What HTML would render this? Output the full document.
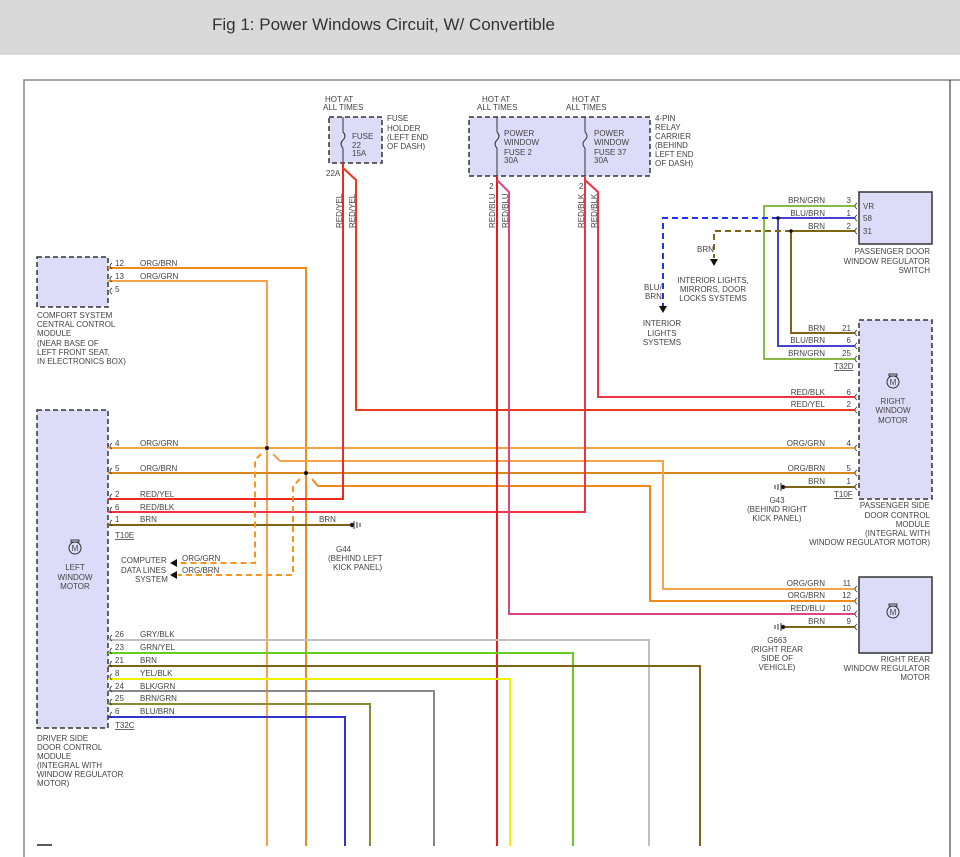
<!DOCTYPE html>
<html><head><meta charset="utf-8"><style>
html,body{margin:0;padding:0;background:#fff;}
svg{display:block;font-family:"Liberation Sans",sans-serif;}
text{fill:#444;font-size:8px;}
</style></head><body>
<svg width="960" height="857" viewBox="0 0 960 857" xmlns="http://www.w3.org/2000/svg">
<rect x="0" y="0" width="960" height="55" fill="#d9d9d9"/>
<text x="212" y="30" style="font-size:17px;fill:#333">Fig 1: Power Windows Circuit, W/ Convertible</text>
<path d="M24,857 V80 H960" fill="none" stroke="#888" stroke-width="1.5"/>
<line x1="950" y1="80" x2="950" y2="857" stroke="#222" stroke-width="1"/>
<line x1="37" y1="845" x2="52" y2="845" stroke="#222" stroke-width="1.5"/>

<!-- boxes -->
<g fill="#dcdcf8" stroke="#333" stroke-width="1.5" stroke-dasharray="5,3">
<rect x="37" y="257" width="71" height="50"/>
<rect x="37" y="410" width="71" height="318"/>
<rect x="329" y="117" width="53" height="46"/>
<rect x="469" y="117" width="181" height="59"/>
<rect x="859" y="320" width="73" height="179"/>
</g>
<g fill="#dcdcf8" stroke="#333" stroke-width="1.5">
<rect x="859" y="192" width="73" height="52"/>
<rect x="859" y="577" width="73" height="76"/>
</g>

<!-- fuses -->
<g stroke="#333" stroke-width="1" fill="none">
<path d="M343,117 V132 M343,148 V163 M343,132 q4,4 0,8 q-4,4 0,8"/>
<path d="M497,117 V132 M497,148 V176 M497,132 q4,4 0,8 q-4,4 0,8"/>
<path d="M585,117 V132 M585,148 V176 M585,132 q4,4 0,8 q-4,4 0,8"/>
</g>

<!-- wires -->
<g fill="none" stroke-width="2">
<path d="M108,281 H267 V846" stroke="#f4a34a"/>
<path d="M108,268 H306 V846" stroke="#ef8a1c"/>
<path d="M108,448 H855" stroke="#f4a34a"/>
<path d="M108,473 H855" stroke="#d9861a"/>
<path d="M273,454 L280,461 H663 V589 H855" stroke="#f4a34a"/>
<path d="M312,479 L318,486 H650 V601 H855" stroke="#ef8a1c"/>
<path d="M108,499 H343 V163" stroke="#ee2a1a"/>
<path d="M343,168 L356,180 V410 H855" stroke="#ee3a1a"/>
<path d="M108,512 H585 V176" stroke="#ee3344"/>
<path d="M585,180 L598,192 V397 H855" stroke="#ee3344"/>
<path d="M497,176 V846" stroke="#ee1a1a"/>
<path d="M497,180 L509,192 V614 H855" stroke="#dd4488"/>
<path d="M108,525 H350" stroke="#806516"/>
<path d="M785,487 H855" stroke="#806516"/>
<path d="M785,627 H855" stroke="#806516"/>
<path d="M108,640 H649 V846" stroke="#c0c0c0"/>
<path d="M108,653 H573 V846" stroke="#66cc22"/>
<path d="M108,666 H700 V846" stroke="#806516"/>
<path d="M108,679 H510 V846" stroke="#f0f000"/>
<path d="M108,691 H434 V846" stroke="#888"/>
<path d="M108,704 H370 V846" stroke="#8a8a30"/>
<path d="M108,717 H345 V846" stroke="#3333cc"/>
<path d="M855,206 H764 V359 H855" stroke="#88bb44"/>
<path d="M855,218 H778 V346 H855" stroke="#4444cc"/>
<path d="M855,231 H791 V333 H855" stroke="#806516"/>
</g>
<g fill="none" stroke-width="2" stroke-dasharray="6,4">
<path d="M261,454 L255,460 V563 H178" stroke="#f7941d"/>
<path d="M300,479 L293,486 V575 H178" stroke="#f7941d"/>
<path d="M778,218 H663 V306" stroke="#2233ee"/>
<path d="M791,231 H714 V258" stroke="#806516"/>
</g>
<g fill="#111">
<circle cx="267" cy="448" r="2"/><circle cx="306" cy="473" r="2"/>
<circle cx="778" cy="218" r="1.8"/><circle cx="791" cy="231" r="1.8"/>
<path d="M170,563 l7,-4 v8z"/><path d="M170,575 l7,-4 v8z"/>
<path d="M659,306 h8 l-4,7z"/><path d="M710,259 h8 l-4,7z"/>
</g>
<!-- grounds -->
<g stroke="#333" stroke-width="1" fill="#111">
<circle cx="352" cy="525" r="1.8"/><path d="M354,521 v8 M357,522 v6 M360,523 v4"/>
<circle cx="783" cy="487" r="1.8"/><path d="M781,483 v8 M778,484 v6 M775,485 v4"/>
<circle cx="783" cy="627" r="1.8"/><path d="M781,623 v8 M778,624 v6 M775,625 v4"/>
</g>
<!-- motor icons -->
<g stroke="#333" stroke-width="1" fill="none">
<circle cx="75" cy="548" r="6"/><rect x="71" y="540" width="8" height="2"/>
<circle cx="893" cy="382" r="6"/><rect x="889" y="374" width="8" height="2"/>
<circle cx="893" cy="612" r="6"/><rect x="889" y="604" width="8" height="2"/>
</g>
<g style="font-size:7px" text-anchor="middle"><text x="75" y="551">M</text><text x="893" y="385">M</text><text x="893" y="615">M</text></g>

<!-- labels -->
<g>
<text x="325" y="102">HOT AT</text><text x="323" y="110">ALL TIMES</text>
<text x="482" y="102">HOT AT</text><text x="477" y="110">ALL TIMES</text>
<text x="572" y="102">HOT AT</text><text x="566" y="110">ALL TIMES</text>
<text x="352" y="139">FUSE</text><text x="352" y="148">22</text><text x="352" y="156">15A</text>
<text x="387" y="121">FUSE</text><text x="387" y="131">HOLDER</text><text x="387" y="140">(LEFT END</text><text x="387" y="149">OF DASH)</text>
<text x="504" y="136">POWER</text><text x="504" y="145">WINDOW</text><text x="504" y="155">FUSE 2</text><text x="504" y="163">30A</text>
<text x="594" y="136">POWER</text><text x="594" y="145">WINDOW</text><text x="594" y="155">FUSE 37</text><text x="594" y="163">30A</text>
<text x="655" y="121">4-PIN</text><text x="655" y="130">RELAY</text><text x="655" y="139">CARRIER</text><text x="655" y="148">(BEHIND</text><text x="655" y="157">LEFT END</text><text x="655" y="166">OF DASH)</text>
<text x="326" y="176">22A</text><text x="489" y="189">2</text><text x="579" y="189">2</text>
<text transform="translate(342,228) rotate(-90)">RED/YEL</text>
<text transform="translate(355,228) rotate(-90)">RED/YEL</text>
<text transform="translate(495,228) rotate(-90)">RED/BLU</text>
<text transform="translate(508,228) rotate(-90)">RED/BLU</text>
<text transform="translate(584,228) rotate(-90)">RED/BLK</text>
<text transform="translate(597,228) rotate(-90)">RED/BLK</text>

<text x="115" y="266">12</text><text x="140" y="266">ORG/BRN</text>
<text x="115" y="279">13</text><text x="140" y="279">ORG/GRN</text>
<text x="115" y="292">5</text>
<text x="37" y="318">COMFORT SYSTEM</text><text x="37" y="327">CENTRAL CONTROL</text><text x="37" y="336">MODULE</text><text x="37" y="346">(NEAR BASE OF</text><text x="37" y="355">LEFT FRONT SEAT,</text><text x="37" y="364">IN ELECTRONICS BOX)</text>

<text x="115" y="446">4</text><text x="140" y="446">ORG/GRN</text>
<text x="115" y="471">5</text><text x="140" y="471">ORG/BRN</text>
<text x="115" y="497">2</text><text x="140" y="497">RED/YEL</text>
<text x="115" y="510">6</text><text x="140" y="510">RED/BLK</text>
<text x="115" y="522">1</text><text x="140" y="522">BRN</text>
<text x="319" y="522">BRN</text>
<text x="115" y="538" text-decoration="underline">T10E</text>
<text x="336" y="552">G44</text><text x="328" y="561">(BEHIND LEFT</text><text x="332" y="560" style="display:none"></text><text x="333" y="560" dy="0"></text>
<text x="333" y="570">KICK PANEL)</text>
<text x="121" y="563">COMPUTER</text><text x="121" y="573">DATA LINES</text><text x="135" y="582">SYSTEM</text>
<text x="182" y="561">ORG/GRN</text><text x="182" y="573">ORG/BRN</text>
<text x="75" y="570" text-anchor="middle">LEFT</text><text x="75" y="580" text-anchor="middle">WINDOW</text><text x="75" y="589" text-anchor="middle">MOTOR</text>

<text x="115" y="637">26</text><text x="140" y="637">GRY/BLK</text>
<text x="115" y="650">23</text><text x="140" y="650">GRN/YEL</text>
<text x="115" y="663">21</text><text x="140" y="663">BRN</text>
<text x="115" y="676">8</text><text x="140" y="676">YEL/BLK</text>
<text x="115" y="689">24</text><text x="140" y="689">BLK/GRN</text>
<text x="115" y="701">25</text><text x="140" y="701">BRN/GRN</text>
<text x="115" y="714">6</text><text x="140" y="714">BLU/BRN</text>
<text x="115" y="728" text-decoration="underline">T32C</text>
<text x="37" y="741">DRIVER SIDE</text><text x="37" y="750">DOOR CONTROL</text><text x="37" y="759">MODULE</text><text x="37" y="768">(INTEGRAL WITH</text><text x="37" y="777">WINDOW REGULATOR</text><text x="37" y="786">MOTOR)</text>

<g text-anchor="end">
<text x="825" y="203">BRN/GRN</text><text x="851" y="203">3</text>
<text x="825" y="216">BLU/BRN</text><text x="851" y="216">1</text>
<text x="825" y="229">BRN</text><text x="851" y="229">2</text>
<text x="825" y="331">BRN</text><text x="851" y="331">21</text>
<text x="825" y="343">BLU/BRN</text><text x="851" y="343">6</text>
<text x="825" y="356">BRN/GRN</text><text x="851" y="356">25</text>
<text x="825" y="395">RED/BLK</text><text x="851" y="395">6</text>
<text x="825" y="407">RED/YEL</text><text x="851" y="407">2</text>
<text x="825" y="446">ORG/GRN</text><text x="851" y="446">4</text>
<text x="825" y="471">ORG/BRN</text><text x="851" y="471">5</text>
<text x="825" y="484">BRN</text><text x="851" y="484">1</text>
<text x="825" y="586">ORG/GRN</text><text x="851" y="586">11</text>
<text x="825" y="598">ORG/BRN</text><text x="851" y="598">12</text>
<text x="825" y="611">RED/BLU</text><text x="851" y="611">10</text>
<text x="825" y="624">BRN</text><text x="851" y="624">9</text>
<text x="930" y="254">PASSENGER DOOR</text><text x="930" y="264">WINDOW REGULATOR</text><text x="930" y="273">SWITCH</text>
<text x="930" y="508">PASSENGER SIDE</text><text x="930" y="518">DOOR CONTROL</text><text x="930" y="527">MODULE</text><text x="930" y="536">(INTEGRAL WITH</text><text x="930" y="545">WINDOW REGULATOR MOTOR)</text>
<text x="930" y="662">RIGHT REAR</text><text x="930" y="671">WINDOW REGULATOR</text><text x="930" y="680">MOTOR</text>
</g>
<text x="863" y="209">VR</text><text x="863" y="221">58</text><text x="863" y="234">31</text>
<text x="834" y="369" text-decoration="underline">T32D</text>
<text x="834" y="497" text-decoration="underline">T10F</text>
<text x="893" y="404" text-anchor="middle">RIGHT</text><text x="893" y="413" text-anchor="middle">WINDOW</text><text x="893" y="423" text-anchor="middle">MOTOR</text>
<g text-anchor="middle">
<text x="777" y="503">G43</text><text x="777" y="512">(BEHIND RIGHT</text><text x="777" y="521">KICK PANEL)</text>
<text x="777" y="643">G663</text><text x="777" y="652">(RIGHT REAR</text><text x="777" y="661">SIDE OF</text><text x="777" y="670">VEHICLE)</text>
<text x="713" y="283">INTERIOR LIGHTS,</text><text x="713" y="292">MIRRORS, DOOR</text><text x="713" y="301">LOCKS SYSTEMS</text>
<text x="662" y="326">INTERIOR</text><text x="662" y="336">LIGHTS</text><text x="662" y="345">SYSTEMS</text>
</g>
<text x="697" y="252">BRN</text>
<text x="644" y="290">BLU/</text><text x="645" y="299">BRN</text>
</g>

<!-- connector marks -->
<g fill="none" stroke="#333" stroke-width="0.8">
<path d="M112,263 q-4,3 0,6 M112,276 q-4,3 0,6 M112,288 q-4,3 0,6"/>
<path d="M112,443 q-4,3 0,6 M112,468 q-4,3 0,6 M112,494 q-4,3 0,6 M112,507 q-4,3 0,6 M112,520 q-4,3 0,6"/>
<path d="M112,635 q-4,3 0,6 M112,648 q-4,3 0,6 M112,661 q-4,3 0,6 M112,674 q-4,3 0,6 M112,686 q-4,3 0,6 M112,699 q-4,3 0,6 M112,712 q-4,3 0,6"/>
<path d="M857,203 q-4,3 0,6 M857,215 q-4,3 0,6 M857,228 q-4,3 0,6"/>
<path d="M857,330 q-4,3 0,6 M857,343 q-4,3 0,6 M857,356 q-4,3 0,6 M857,394 q-4,3 0,6 M857,407 q-4,3 0,6 M857,445 q-4,3 0,6 M857,470 q-4,3 0,6 M857,484 q-4,3 0,6"/>
<path d="M857,586 q-4,3 0,6 M857,598 q-4,3 0,6 M857,611 q-4,3 0,6 M857,624 q-4,3 0,6"/>
</g>
</svg>
</body></html>
